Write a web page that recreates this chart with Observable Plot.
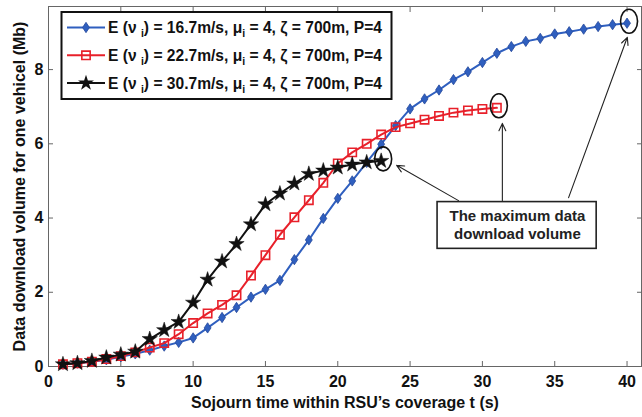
<!DOCTYPE html>
<html><head><meta charset="utf-8">
<script src="https://cdn.jsdelivr.net/npm/d3@7"></script>
<script src="https://cdn.jsdelivr.net/npm/@observablehq/plot@0.6"></script>
<style>
body{margin:0;background:#fff;}
#chart{position:relative;width:642px;height:417px;}
</style>
</head><body><div id="chart"></div>
<script>
// ---- data ----
const tBlue = [1,2,3,4,5,6,7,8,9,10,11,12,13,14,15,16,17,18,19,20,21,22,23,24,25,26,27,28,29,30,31,32,33,34,35,36,37,38,39,40];
const vBlue = [0.06,0.09,0.13,0.18,0.26,0.34,0.44,0.55,0.65,0.77,1.04,1.32,1.59,1.87,2.08,2.32,2.88,3.41,3.99,4.53,5.0,5.5,5.99,6.49,6.94,7.21,7.45,7.73,7.94,8.19,8.44,8.62,8.76,8.84,8.96,9.02,9.09,9.16,9.21,9.25];
const tRed = [1,2,3,4,5,6,7,8,9,10,11,12,13,14,15,16,17,18,19,20,21,22,23,24,25,26,27,28,29,30,31];
const vRed = [0.06,0.09,0.13,0.2,0.28,0.38,0.51,0.63,0.87,1.17,1.43,1.66,1.92,2.45,3.0,3.55,4.02,4.48,4.95,5.47,5.77,6.0,6.25,6.45,6.55,6.65,6.75,6.84,6.9,6.94,6.97];
const tBlack = [1,2,3,4,5,6,7,8,9,10,11,12,13,14,15,16,17,18,19,20,21,22,23];
const vBlack = [0.06,0.09,0.15,0.24,0.32,0.4,0.74,0.98,1.2,1.72,2.34,2.83,3.3,3.83,4.37,4.66,4.93,5.19,5.28,5.36,5.44,5.5,5.54];
const legendSpeeds = ["16.7", "22.7", "30.7"];
const xTicks = [0,5,10,15,20,25,30,35,40];
const yTicks = [0,2,4,6,8];
const xLabel = "Sojourn time within RSU\u2019s coverage t (s)";
const yLabel = "Data download volume for one vehicel (Mb)";
const noteText = "The maximum data\ndownload volume";
// annotation geometry in data units (t, Mb)
const noteBox = [{x1: 26.9, x2: 37.9, y1: 3.17, y2: 4.43}];
const noteCenter = [{x: 32.42, y: 3.83}];
const arrowTail = [[28.35, 4.47], [31.38, 4.47], [35.96, 4.55]];
const arrowHead = [[24.07, 5.42], [31.38, 6.55], [40.02, 8.87]];

const colBlue = "#2f5fbf", colRed = "#e8202a", colBlack = "#111";

const mk = (ts, vs) => ts.map((t, i) => ({t, v: vs[i]}));
const blue = mk(tBlue, vBlue), red = mk(tRed, vRed), black = mk(tBlack, vBlack);
const ends = [blue[blue.length-1], red[red.length-1], black[black.length-1]];
const arrows = arrowTail.map((a, i) => ({x1: a[0], y1: a[1], x2: arrowHead[i][0], y2: arrowHead[i][1]}));

// custom symbols
const K = 0.5523;
function ellipsePath(ctx, cx, cy, rx, ry) {
  ctx.moveTo(cx + rx, cy);
  ctx.bezierCurveTo(cx + rx, cy + K*ry, cx + K*rx, cy + ry, cx, cy + ry);
  ctx.bezierCurveTo(cx - K*rx, cy + ry, cx - rx, cy + K*ry, cx - rx, cy);
  ctx.bezierCurveTo(cx - rx, cy - K*ry, cx - K*rx, cy - ry, cx, cy - ry);
  ctx.bezierCurveTo(cx + K*rx, cy - ry, cx + rx, cy - K*ry, cx + rx, cy);
  ctx.closePath();
}
const ellipseSym = {draw(ctx, size) { ellipsePath(ctx, 0, 0, 8.5, 12); }};
const diamondSym = {draw(ctx, size) {
  const r = Math.sqrt(size / Math.PI);
  ctx.moveTo(0, -r*1.2); ctx.lineTo(r*0.8, 0); ctx.lineTo(0, r*1.2); ctx.lineTo(-r*0.8, 0); ctx.closePath();
}};

const plot = Plot.plot({
  width: 642, height: 417,
  marginLeft: 48, marginRight: 1, marginTop: 6, marginBottom: 51,
  style: {fontFamily: "Liberation Sans, Arial, sans-serif", background: "#fff", color: "#111"},
  x: {domain: [0, 41]},
  y: {domain: [0, 9.7]},
  marks: [
    Plot.frame({stroke: "#666", strokeWidth: 1}),
    Plot.axisX(xTicks, {anchor: "bottom", tickSize: 5, dy: -5, fill: "none", label: null, stroke: "#666"}),
    Plot.axisX(xTicks, {anchor: "top", tickSize: 5, dy: 5, fill: "none", label: null, stroke: "#666"}),
    Plot.axisY(yTicks, {anchor: "left", tickSize: 5, dx: 5, fill: "none", label: null, stroke: "#666"}),
    Plot.axisY(yTicks, {anchor: "right", tickSize: 5, dx: -5, fill: "none", label: null, stroke: "#666"}),
    Plot.axisX(xTicks, {anchor: "bottom", tickSize: 0, tickPadding: 9, fontSize: 16, fontWeight: "bold", label: null}),
    Plot.axisY(yTicks, {anchor: "left", tickSize: 0, tickPadding: 5, fontSize: 16, fontWeight: "bold", label: null}),
    Plot.text([xLabel], {frameAnchor: "bottom", dy: 41, lineAnchor: "bottom", textAnchor: "middle", fontSize: 16, fontWeight: "bold", fill: "#111"}),
    Plot.text([yLabel], {frameAnchor: "left", rotate: -90, dx: -24, lineAnchor: "bottom", textAnchor: "middle", fontSize: 16, fontWeight: "bold", fill: "#111"}),
    Plot.arrow(arrows, {x1: "x1", y1: "y1", x2: "x2", y2: "y2", stroke: "#222", strokeWidth: 1.1, headLength: 11, headAngle: 50}),
    Plot.line(blue, {x: "t", y: "v", stroke: colBlue, strokeWidth: 2}),
    Plot.dot(blue, {x: "t", y: "v", symbol: diamondSym, r: 4.3, fill: colBlue, stroke: "#24489a", strokeWidth: 0.8}),
    Plot.line(red, {x: "t", y: "v", stroke: colRed, strokeWidth: 2}),
    Plot.dot(red, {x: "t", y: "v", symbol: "square", r: 4.7, fill: "none", stroke: colRed, strokeWidth: 1.6}),
    Plot.line(black, {x: "t", y: "v", stroke: colBlack, strokeWidth: 2}),
    Plot.dot(black, {x: "t", y: "v", symbol: "star", r: 4.8, fill: colBlack, stroke: colBlack, strokeWidth: 0.5}),
    Plot.dot(ends, {x: "t", y: "v", symbol: ellipseSym, r: 5, fill: "none", stroke: "#111", strokeWidth: 1.6, dx: 2, dy: -2}),
    Plot.rect(noteBox, {x1: "x1", x2: "x2", y1: "y1", y2: "y2", fill: "#fff", stroke: "#222", strokeWidth: 1.6}),
    Plot.text(noteCenter, {x: "x", y: "y", text: () => noteText, fontSize: 15, fontWeight: "bold", lineHeight: 1.18, fill: "#222"})
  ]
});
document.getElementById("chart").appendChild(plot);

// ---- legend (inside plot, top-left) ----
const svg = d3.select(plot);
const lg = svg.append("g").attr("font-family", "Liberation Sans, Arial, sans-serif").attr("font-weight", "bold").attr("text-anchor", "start");
lg.append("rect").attr("x", 61.5).attr("y", 12).attr("width", 330).attr("height", 87)
  .attr("fill", "#fff").attr("stroke", "#111").attr("stroke-width", 2);
const legendColors = [colBlue, colRed, colBlack];
legendSpeeds.forEach((sp, i) => {
  const y = 27.5 + i * 27.8;
  const c = legendColors[i];
  lg.append("line").attr("x1", 67).attr("x2", 105).attr("y1", y).attr("y2", y).attr("stroke", c).attr("stroke-width", 2);
  const g = lg.append("g").attr("transform", `translate(86,${y})`);
  if (i === 0) g.append("path").attr("d", d3.symbol(diamondSym, Math.PI*18.5)()).attr("fill", c).attr("stroke", "#24489a").attr("stroke-width", 0.8);
  if (i === 1) g.append("path").attr("d", d3.symbol(d3.symbolSquare, Math.PI*22)()).attr("fill", "none").attr("stroke", c).attr("stroke-width", 1.6);
  if (i === 2) g.append("path").attr("d", d3.symbol(d3.symbolStar, Math.PI*25)()).attr("fill", c);
  const tx = lg.append("text").attr("x", 108).attr("y", y + 5.6).attr("font-size", 15.6).attr("fill", "#111").attr("text-anchor", "start");
  tx.append("tspan").text("E (\u03bd ");
  tx.append("tspan").attr("dy", 4).attr("font-size", 10.5).text("i");
  tx.append("tspan").attr("dy", -4).text(`) = ${sp}m/s, \u03bc`);
  tx.append("tspan").attr("dy", 4).attr("font-size", 10.5).text("i");
  tx.append("tspan").attr("dy", -4).text(" = 4, \u03b6 = 700m, P=4");
});
</script>
</body></html>
